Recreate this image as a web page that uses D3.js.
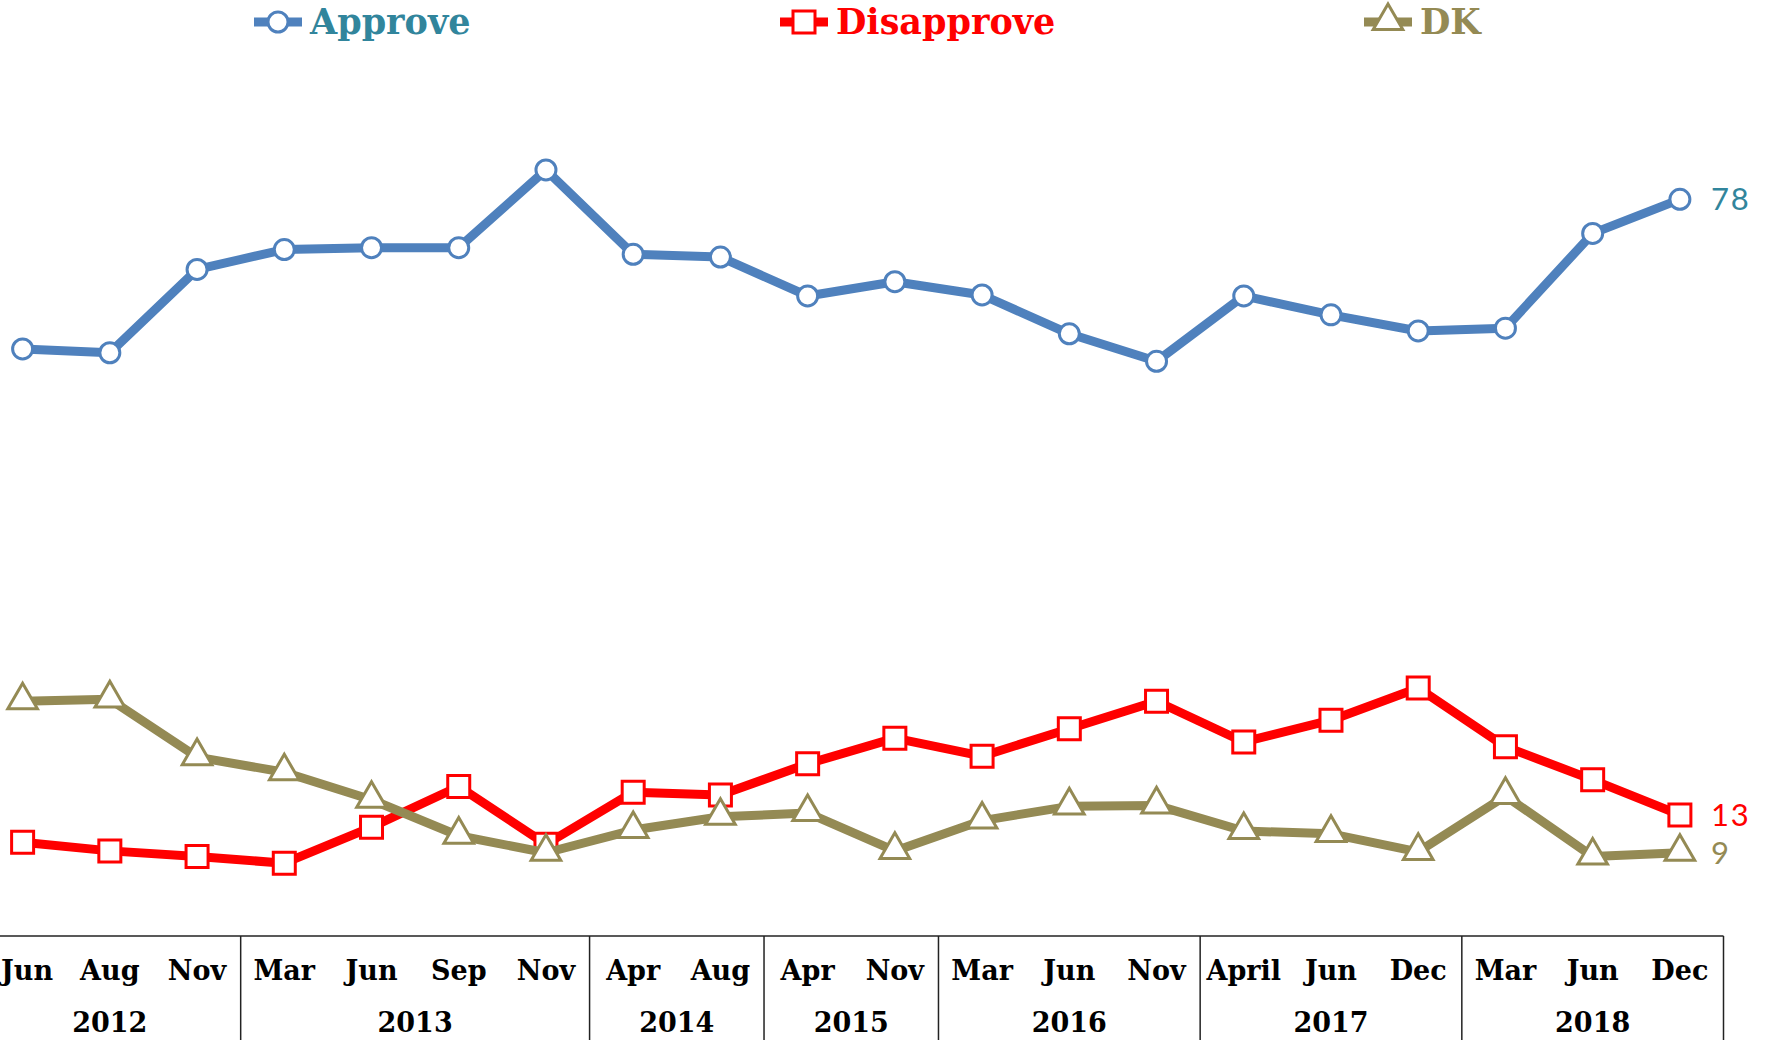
<!DOCTYPE html>
<html>
<head>
<meta charset="utf-8">
<script src="https://cdn.jsdelivr.net/npm/d3@7"></script>
<style>
  html, body { margin: 0; padding: 0; background: #fff; }
  svg { display: block; }
</style>
</head>
<body>
<svg id="chart" width="1769" height="1040"></svg>
<script>
const months = ["Jun","Aug","Nov","Mar","Jun","Sep","Nov","Apr","Aug","Apr","Nov","Mar","Jun","Nov","April","Jun","Dec","Mar","Jun","Dec"];
const years = ["2012","2013","2014","2015","2016","2017","2018"];
const yearCounts = [3,4,2,2,3,3,3];

const approve    = [62.2, 61.8, 70.6, 72.7, 72.9, 72.9, 81.1, 72.2, 71.9, 67.8, 69.3, 67.9, 63.8, 60.9, 67.8, 65.8, 64.1, 64.4, 74.4, 78];
const disapprove = [10.1, 9.2, 8.6, 7.9, 11.7, 16.0, 9.9, 15.4, 15.1, 18.4, 21.1, 19.2, 22.1, 25.0, 20.7, 23.0, 26.4, 20.2, 16.7, 13];
const dk         = [25.0, 25.2, 19.1, 17.5, 14.6, 10.8, 9.0, 11.4, 12.8, 13.2, 9.2, 12.4, 13.9, 14.0, 11.3, 11.0, 9.1, 15.0, 8.6, 9];

const seriesNames = ["Approve","Disapprove","DK"];
const lineColors = ["#4F81BD","#FF0000","#948A54"];
const textColors = ["#31859C","#FF0000","#948A54"];
const symbols = [d3.symbolCircle, d3.symbolSquare, d3.symbolTriangle];
const allSeries = [approve, disapprove, dk];

const svg = d3.select("#chart");
const serif = "'DejaVu Serif', serif";

const x = d3.scaleBand().domain(d3.range(months.length)).range([-21, 1723.5]).padding(0);
const y = d3.scaleLinear().domain([0, 100]).range([938, -9]);
const cx = i => x(i) + x.bandwidth() / 2;

const markerSizes = [10*10*Math.PI, 22*22, 380];

function drawMarker(g, k, px, py) {
  g.append("path")
    .attr("d", d3.symbol().type(symbols[k]).size(markerSizes[k])())
    .attr("transform", `translate(${px},${py})` + (k === 2 ? " translate(0,-1)" : ""))
    .attr("fill", "#fff")
    .attr("stroke", lineColors[k])
    .attr("stroke-width", 3);
}

// Series
allSeries.forEach((vals, k) => {
  const g = svg.append("g");
  const line = d3.line().x((d, i) => cx(i)).y(d => y(d));
  g.append("path")
    .datum(vals)
    .attr("d", line)
    .attr("fill", "none")
    .attr("stroke", lineColors[k])
    .attr("stroke-width", 9)
    .attr("stroke-linejoin", "round");
  vals.forEach((v, i) => drawMarker(g, k, cx(i), y(v)));
  const last = vals.length - 1;
  g.append("text")
    .attr("x", cx(last) + 31)
    .attr("y", y(vals[last]))
    .attr("dy", "0.35em")
    .attr("fill", textColors[k])
    .attr("font-family", "Lato, 'Open Sans', sans-serif")
    .attr("font-size", 31)
    .attr("letter-spacing", 2)
    .text(d3.format("d")(vals[last]));
});

// Category axis
const axisY = 936;
svg.append("line")
  .attr("x1", 0).attr("x2", x.range()[1])
  .attr("y1", axisY).attr("y2", axisY)
  .attr("stroke", "#222").attr("stroke-width", 1.5);

let start = 0;
const ax = svg.append("g");
yearCounts.forEach((n, j) => {
  const end = start + n; // exclusive
  const bx = x(end - 1) + x.bandwidth();
  ax.append("line")
    .attr("x1", bx).attr("x2", bx)
    .attr("y1", axisY).attr("y2", 1040)
    .attr("stroke", "#222").attr("stroke-width", 1.5);
  const mid = (x(start) + bx) / 2;
  ax.append("text")
    .attr("x", mid).attr("y", 1023)
    .attr("dy", "0.35em")
    .attr("text-anchor", "middle")
    .attr("font-family", serif).attr("font-weight", "bold")
    .attr("font-size", 27).attr("fill", "#000")
    .text(years[j]);
  start = end;
});
months.forEach((m, i) => {
  const t = ax.append("text")
    .attr("x", cx(i)).attr("y", 971)
    .attr("dy", "0.35em")
    .attr("text-anchor", "middle")
    .attr("font-family", serif).attr("font-weight", "bold")
    .attr("font-size", 27).attr("fill", "#000")
    .text(m);
  const w = t.node().getComputedTextLength();
  if (cx(i) - w / 2 < 1) t.attr("x", 1 + w / 2);
});

// Legend
const legendX = [278, 804, 1388];
const legendY = 22;
seriesNames.forEach((name, k) => {
  const g = svg.append("g");
  g.append("line")
    .attr("x1", legendX[k] - 24).attr("x2", legendX[k] + 24)
    .attr("y1", legendY).attr("y2", legendY)
    .attr("stroke", lineColors[k]).attr("stroke-width", 9);
  drawMarker(g, k, legendX[k], legendY);
  g.append("text")
    .attr("x", legendX[k] + 32).attr("y", legendY)
    .attr("dy", "0.35em")
    .attr("fill", textColors[k])
    .attr("font-family", serif).attr("font-weight", "bold")
    .attr("font-size", 35)
    .text(name);
});
</script>
</body>
</html>
